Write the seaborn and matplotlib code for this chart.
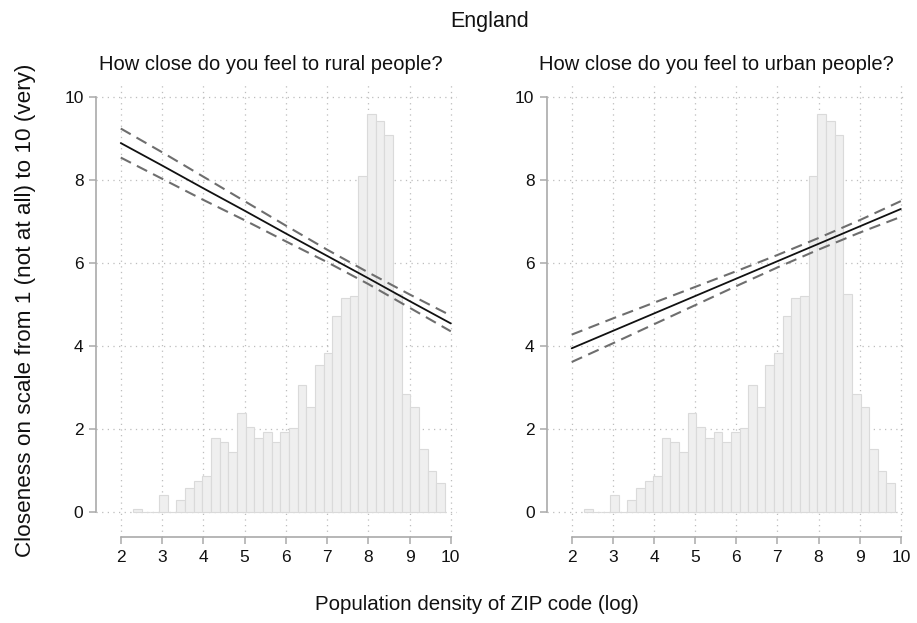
import numpy as np
import pandas as pd
import matplotlib
matplotlib.use("Agg")
import matplotlib.pyplot as plt
import seaborn as sns

# ---- data ----
fig_title = "England"
panel_titles = ["How close do you feel to rural people?",
                "How close do you feel to urban people?"]
x_label = "Population density of ZIP code (log)"
y_label = "Closeness on scale from 1 (not at all) to 10 (very)"

# histogram of log population density (bar heights, shown on the y scale)
bin_start = 2.30
bin_width = 0.21
hist_heights = [0.08, 0.0, 0.0, 0.41, 0.0, 0.29, 0.59, 0.74, 0.87,
                1.78, 1.70, 1.45, 2.40, 2.06, 1.78, 1.94, 1.70, 1.94,
                2.02, 3.06, 2.53, 3.55, 3.84, 4.72, 5.16, 5.20, 8.10,
                9.59, 9.42, 9.09, 5.25, 2.85, 2.53, 1.53, 0.99, 0.70]

# linear fits with 95% confidence bands
fit_x = [2, 3, 4, 5, 6, 7, 8, 9, 10]
rural_fit = [8.90, 8.36, 7.81, 7.27, 6.72, 6.18, 5.64, 5.09, 4.55]
rural_hi = [9.25, 8.68, 8.09, 7.50, 6.91, 6.33, 5.78, 5.25, 4.74]
rural_lo = [8.55, 8.04, 7.53, 7.04, 6.53, 6.03, 5.50, 4.93, 4.36]
urban_fit = [3.95, 4.37, 4.79, 5.21, 5.63, 6.05, 6.47, 6.89, 7.31]
urban_hi = [4.28, 4.67, 5.05, 5.43, 5.81, 6.20, 6.61, 7.04, 7.50]
urban_lo = [3.62, 4.07, 4.53, 4.99, 5.45, 5.90, 6.33, 6.74, 7.12]

x_ticks = [2, 3, 4, 5, 6, 7, 8, 9, 10]
y_ticks = [0, 2, 4, 6, 8, 10]

# ---- style ----
sns.set_theme(style="white")
plt.rcParams["font.family"] = ["Liberation Sans", "DejaVu Sans"]

n_bins = len(hist_heights)
bin_end = bin_start + bin_width * n_bins
centers = bin_start + bin_width * (np.arange(n_bins) + 0.5)
hist_df = pd.DataFrame({"x": centers, "w": hist_heights})

fig = plt.figure(figsize=(9.17, 6.23), dpi=100)
ax_l = fig.add_axes([96 / 917, 1 - 537 / 623, 361 / 917, 452 / 623])
ax_r = fig.add_axes([547 / 917, 1 - 537 / 623, 360 / 917, 452 / 623])

panels = [
    (ax_l, panel_titles[0], rural_fit, rural_hi, rural_lo, 0.483),
    (ax_r, panel_titles[1], urban_fit, urban_hi, urban_lo, 0.471),
]

for ax, title, fit, hi, lo, tx in panels:
    ax.set_axisbelow(True)
    sns.histplot(data=hist_df, x="x", weights="w", bins=n_bins,
                 binrange=(bin_start, bin_end), ax=ax,
                 color="#efefef", edgecolor="#dadada", linewidth=0.8,
                 alpha=1.0, stat="count")
    sns.lineplot(x=fit_x, y=hi, ax=ax, color="#6e6e6e", linewidth=1.5,
                 linestyle=(0, (5.5, 3.2)))
    sns.lineplot(x=fit_x, y=lo, ax=ax, color="#6e6e6e", linewidth=1.5,
                 linestyle=(0, (5.5, 3.2)))
    sns.lineplot(x=fit_x, y=fit, ax=ax, color="#111111", linewidth=1.3)

    ax.set_xlim(1.40, 10.15)
    ax.set_ylim(-0.60, 10.30)
    ax.set_xticks(x_ticks)
    ax.set_yticks(y_ticks)
    ax.set_xticklabels([str(t) for t in x_ticks])
    ax.set_yticklabels([str(t) for t in y_ticks])
    ax.grid(True, linestyle=(0, (1, 3.5)), color="#bdbdbd", linewidth=0.9)
    for s in ["top", "right"]:
        ax.spines[s].set_visible(False)
    ax.spines["left"].set_bounds(0, 10)
    ax.spines["bottom"].set_bounds(2, 10)
    for s in ["left", "bottom"]:
        ax.spines[s].set_color("#aaaaaa")
        ax.spines[s].set_linewidth(1.2)
    ax.tick_params(axis="both", which="major", length=5, width=1.1,
                   color="#aaaaaa", labelsize=12.5, labelcolor="#111111",
                   bottom=True, left=True, pad=4)
    ax.set_xlabel("")
    ax.set_ylabel("")
    ax.set_title(title, fontsize=14.5, color="#111111", pad=11, x=tx)

fig.text(0.534, 0.966, fig_title, ha="center", va="center", fontsize=15.5,
         color="#111111")
fig.text(0.520, 0.030, x_label, ha="center", va="center", fontsize=14.8,
         color="#111111")
fig.text(0.028, 0.502, y_label, ha="center", va="center", rotation=90,
         fontsize=16.2, color="#111111")

fig.savefig("out.png", dpi=100)
